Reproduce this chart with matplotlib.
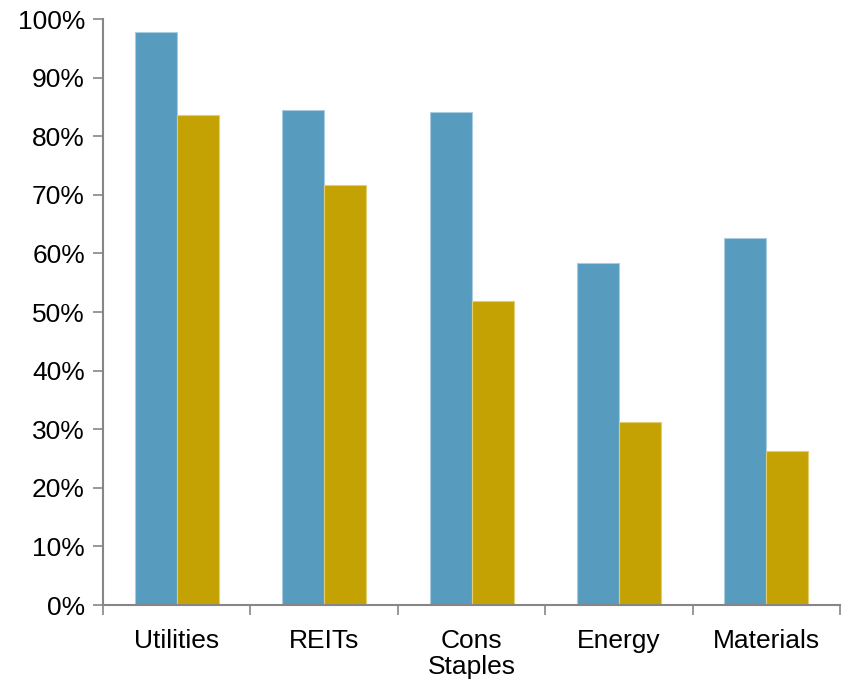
import numpy as np
import matplotlib
matplotlib.use('Agg')
import matplotlib.pyplot as plt
from matplotlib.ticker import FuncFormatter, FixedLocator

plt.rcParams['font.family'] = ['Liberation Sans', 'DejaVu Sans']

categories = ['Utilities', 'REITs', 'Cons\nStaples', 'Energy', 'Materials']
series_a = [97.8, 84.4, 84.2, 58.4, 62.7]
series_b = [83.6, 71.7, 51.8, 31.2, 26.2]

BLUE = '#579BBF'
GOLD = '#C4A204'
SPINE = '#868686'

fig = plt.figure(figsize=(8.48, 6.81), dpi=100)
ax = fig.add_axes([0.1215, 0.1116, 0.8691, 0.8604])

x = np.arange(len(categories))
w = 0.285
ax.bar(x - w / 2, series_a, width=w, color=BLUE, edgecolor='#A9CCE0', linewidth=0.8)
ax.bar(x + w / 2, series_b, width=w, color=GOLD, edgecolor='#E0CE70', linewidth=0.8)

ax.set_xlim(-0.5, len(categories) - 0.5)
ax.set_ylim(0, 100)
ax.set_yticks(np.arange(0, 101, 10))
ax.yaxis.set_major_formatter(FuncFormatter(lambda v, p: f'{v:.0f}%'))

ax.set_xticks(x)
ax.set_xticklabels(categories, fontsize=19, linespacing=1.12)
ax.xaxis.set_minor_locator(FixedLocator(np.arange(-0.5, len(categories), 1.0)))
ax.tick_params(axis='x', which='major', length=0, pad=17)
ax.tick_params(axis='x', which='minor', length=7, color=SPINE, width=1.2)
ax.tick_params(axis='y', length=7, color=SPINE, width=1.2, labelsize=19, pad=6)

for s in ['top', 'right']:
    ax.spines[s].set_visible(False)
for s in ['left', 'bottom']:
    ax.spines[s].set_color(SPINE)
    ax.spines[s].set_linewidth(1.5)

plt.savefig('out.png', dpi=100)
plt.close()
